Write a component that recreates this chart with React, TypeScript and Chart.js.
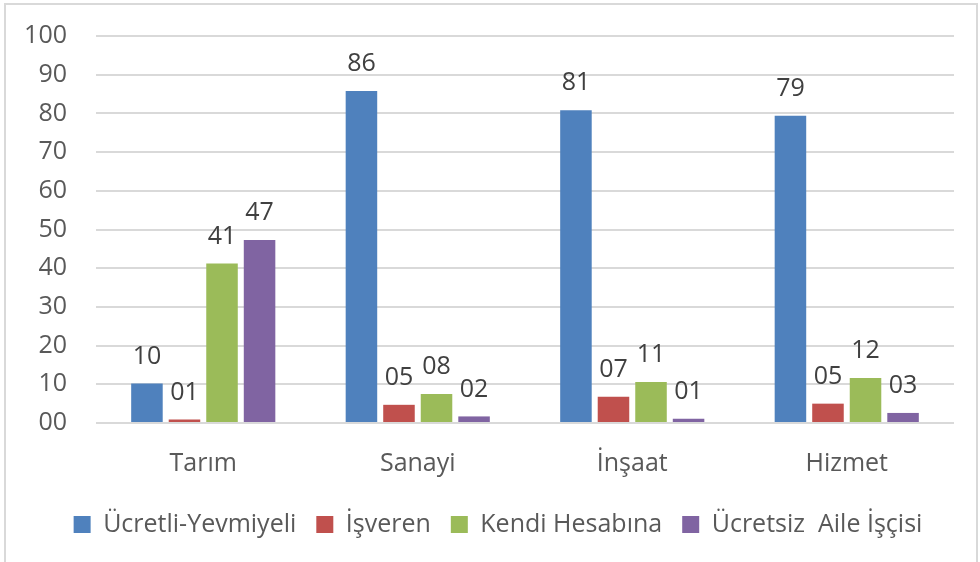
import React, { useEffect, useRef } from "react";
import { Chart, registerables } from "chart.js";

Chart.register(...registerables);

const categories = ["Tarım", "Sanayi", "İnşaat", "Hizmet"];
const seriesNames = ["Ücretli-Yevmiyeli", "İşveren", "Kendi Hesabına", "Ücretsiz  Aile İşçisi"];
const ucretliYevmiyeli = [10.2, 85.8, 80.8, 79.4];
const isveren = [0.9, 4.7, 6.8, 5.0];
const kendiHesabina = [41.2, 7.5, 10.6, 11.6];
const ucretsizAile = [47.3, 1.7, 1.1, 2.6];
const seriesColors = ["#4F81BD", "#C0504D", "#9BBB59", "#8064A2"];
const yTicks = [0, 10, 20, 30, 40, 50, 60, 70, 80, 90, 100];

const FONT = "'Open Sans', 'Noto Sans', sans-serif";

const pad2 = (v: number) => String(Math.round(v)).padStart(2, "0");

const frame = {
  id: "frame",
  beforeDraw(chart: any) {
    const ctx = chart.ctx;
    ctx.save();
    ctx.fillStyle = "#ffffff";
    ctx.fillRect(0, 0, chart.width, chart.height);
    ctx.strokeStyle = "#d9d9d9";
    ctx.lineWidth = 2;
    ctx.strokeRect(5, 4, 972, 620);
    ctx.restore();
  },
};

const valueLabels = {
  id: "valueLabels",
  afterDatasetsDraw(chart: any) {
    const ctx = chart.ctx;
    ctx.save();
    ctx.font = `25px ${FONT}`;
    ctx.fillStyle = "#404040";
    ctx.textAlign = "center";
    ctx.textBaseline = "middle";
    chart.data.datasets.forEach((ds: any, i: number) => {
      const meta = chart.getDatasetMeta(i);
      meta.data.forEach((bar: any, j: number) => {
        ctx.fillText(pad2(ds.data[j]), bar.x, bar.y - 27);
      });
    });
    ctx.restore();
  },
};

export default function App() {
  const ref = useRef<HTMLCanvasElement | null>(null);
  useEffect(() => {
    if (!ref.current) return;
    const data = [ucretliYevmiyeli, isveren, kendiHesabina, ucretsizAile];
    const chart = new Chart(ref.current, {
      type: "bar",
      data: {
        labels: categories,
        datasets: seriesNames.map((name, i) => ({
          label: name,
          data: data[i],
          backgroundColor: seriesColors[i],
          borderWidth: 0,
          categoryPercentage: 0.7,
          barPercentage: 0.84,
          yAxisID: "y",
        })),
      },
      options: {
        responsive: false,
        animation: false,
        layout: { padding: { top: 36, left: 16, right: 0, bottom: 15 } },
        plugins: {
          tooltip: { enabled: false },
          legend: {
            position: "bottom",
            labels: {
              font: { family: FONT, size: 25 },
              color: "#595959",
              boxWidth: 17,
              boxHeight: 17,
              padding: 20,
            },
          },
        },
        scales: {
          x: {
            grid: { display: false },
            border: { display: false },
            ticks: { font: { family: FONT, size: 25 }, color: "#595959", padding: 18 },
            afterFit(scale: any) {
              scale.height = 69;
            },
          },
          y: {
            min: 0,
            max: 100,
            afterBuildTicks(scale: any) {
              scale.ticks = yTicks.map((v) => ({ value: v }));
            },
            grid: {
              color: "#d9d9d9",
              lineWidth: 2,
              drawTicks: true,
              tickLength: 29,
              tickColor: "rgba(0,0,0,0)",
            },
            border: { display: false },
            ticks: {
              font: { family: FONT, size: 25 },
              color: "#595959",
              padding: 0,
              callback: (v: any) => pad2(Number(v)),
            },
            afterFit(scale: any) {
              scale.width = 80;
            },
          },
          y1: {
            position: "right",
            min: 0,
            max: 100,
            grid: { display: false },
            border: { display: false },
            ticks: { display: false },
            afterFit(scale: any) {
              scale.width = 26;
            },
          },
        },
      },
      plugins: [frame, valueLabels],
    });
    return () => chart.destroy();
  }, []);
  return (
    <div style={{ position: "fixed", left: 0, top: 0, width: 980, height: 562 }}>
      <canvas ref={ref} width={980} height={562} />
    </div>
  );
}
